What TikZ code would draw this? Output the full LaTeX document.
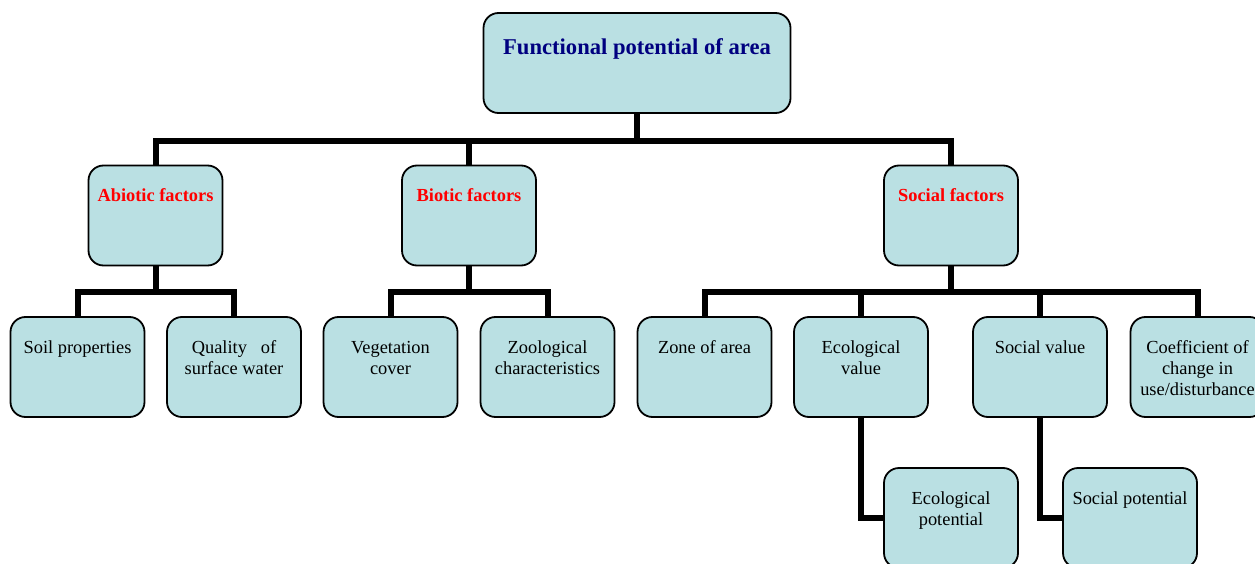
\documentclass[tikz,border=0pt]{standalone}
\usepackage{fontspec}
\setmainfont{Liberation Serif}
\definecolor{boxfill}{RGB}{186,224,227}
\definecolor{navytxt}{RGB}{0,0,128}
\definecolor{redtxt}{RGB}{255,0,0}
\tikzset{
  box/.style={draw=black, line width=1.8pt, fill=boxfill, rounded corners=15pt,
    minimum width=134pt, minimum height=100pt, inner sep=0pt},
  txt/.style={font=\fontsize{18.4}{21}\selectfont, align=center, anchor=base, inner sep=0pt},
  redt/.style={txt, font=\fontsize{18.4}{21}\selectfont\bfseries, text=redtxt},
  titlet/.style={txt, font=\fontsize{22.6}{27}\selectfont\bfseries, text=navytxt},
  conn/.style={line width=6pt, draw=black, line join=miter, line cap=butt}
}
\begin{document}
\begin{tikzpicture}[x=1pt,y=1pt]
\useasboundingbox (0,0) rectangle (1255,-564);
\clip (0,0) rectangle (1255,-564);
% boxes
\node[box, minimum width=307pt] (top) at (637,-63) {};
\node[box] (abio) at (155.5,-215.5) {};
\node[box] (bio) at (469,-215.5) {};
\node[box] (soc) at (951,-215.5) {};
\node[box] (soil) at (77.5,-367) {};
\node[box] (qual) at (234,-367) {};
\node[box] (veg) at (390.5,-367) {};
\node[box] (zoo) at (547.5,-367) {};
\node[box] (zone) at (704.5,-367) {};
\node[box] (ecov) at (861,-367) {};
\node[box] (socv) at (1040,-367) {};
\node[box] (coef) at (1197.5,-367) {};
\node[box] (ecop) at (951,-518) {};
\node[box] (socp) at (1130,-518) {};
% texts (anchor=base is the baseline of the last line)
\node[titlet] (topT) at ([yshift=-42.5pt]top.north) {Functional potential of area};
\node[redt] (abioT) at ([yshift=-37pt]abio.north) {Abiotic factors};
\node[redt] (bioT) at ([yshift=-37pt]bio.north) {Biotic factors};
\node[redt] (socT) at ([yshift=-37pt]soc.north) {Social factors};
\node[txt] (soilT) at ([yshift=-37.5pt]soil.north) {Soil properties};
\node[txt] (qualT) at ([yshift=-58.5pt]qual.north) {Quality\ \ \ of\\surface water};
\node[txt] (vegT) at ([yshift=-58.5pt]veg.north) {Vegetation\\cover};
\node[txt] (zooT) at ([yshift=-58.5pt]zoo.north) {Zoological\\characteristics};
\node[txt] (zoneT) at ([yshift=-37.5pt]zone.north) {Zone of area};
\node[txt] (ecovT) at ([yshift=-58.5pt]ecov.north) {Ecological\\value};
\node[txt] (socvT) at ([yshift=-37.5pt]socv.north) {Social value};
\node[txt] (coefT) at ([yshift=-79.5pt]coef.north) {Coefficient of\\change in\\use/disturbance};
\node[txt] (ecopT) at ([yshift=-58pt]ecop.north) {Ecological\\potential};
\node[txt] (socpT) at ([yshift=-37.5pt]socp.north) {Social potential};
% junctions
\coordinate (j0) at (637,-141);
\coordinate (j1) at (155.5,-292);
\coordinate (j2) at (469,-292);
\coordinate (j3) at (951,-292);
% connectors
\draw[conn] (top.south) -- (j0);
\draw[conn] (abio.north) |- (j0) -| (soc.north);
\draw[conn] (bio.north) -- (bio.north |- j0);
\draw[conn] (abio.south) -- (j1);
\draw[conn] (soil.north) |- (j1) -| (qual.north);
\draw[conn] (bio.south) -- (j2);
\draw[conn] (veg.north) |- (j2) -| (zoo.north);
\draw[conn] (soc.south) -- (j3);
\draw[conn] (zone.north) |- (j3) -| (coef.north);
\draw[conn] (ecov.north |- j3) -- (ecov.north);
\draw[conn] (socv.north |- j3) -- (socv.north);
\draw[conn] (ecov.south) |- (ecop.west);
\draw[conn] (socv.south) |- (socp.west);
\end{tikzpicture}
\end{document}
